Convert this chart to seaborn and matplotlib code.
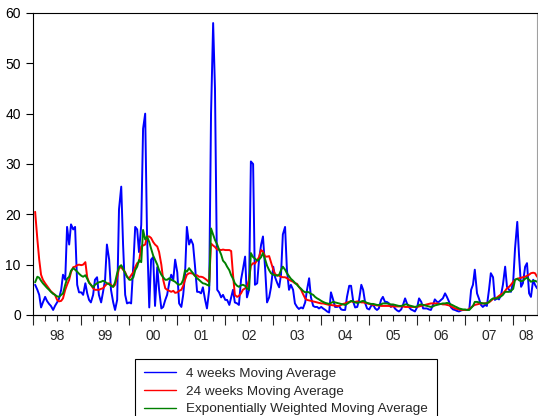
import numpy as np
import pandas as pd
import matplotlib.pyplot as plt
import seaborn as sns

# semi-monthly readings, one line per year (1998 .. mid 2008)
ma4 = [
    6, 5, 4, 1.5, 2.5, 3.6, 2.8, 2.2, 1.8, 1.0, 1.8, 2.5, 3.2, 5, 8, 7, 17.5, 14, 18, 17, 17.5, 6, 4.5, 4.5,
    4, 6.3, 4.3, 3, 2.5, 4, 7, 7.5, 4, 2.5, 4.5, 7, 14, 11, 5, 2.5, 1, 3, 21, 25.5, 14, 4, 2.3, 2.5,
    2.3, 10, 17.5, 17, 12.5, 17.9, 37, 40, 16, 1.5, 11, 11.5, 1.8, 9.5, 5, 1.3, 1.6, 3, 4, 6.5, 8, 7, 11, 8.5,
    2.3, 1.6, 4, 8, 17.5, 14, 15, 14, 10, 4.6, 4.6, 4.3, 5.5, 3, 1.3, 5, 40, 58, 45, 5, 4.5, 3.5, 4, 3,
    3, 2, 3.5, 5, 2.5, 2.3, 2, 7, 9, 11.6, 3.5, 5, 30.5, 30, 6, 6.3, 11, 14, 15.6, 9, 2.5, 3.5, 5.5, 9.6,
    7.5, 6.3, 5.5, 8, 16, 17.5, 9, 5, 6, 5, 2.3, 1.6, 1.2, 1.5, 1.3, 2.5, 5, 7.3, 3.5, 1.8, 1.6, 1.6, 1.3, 1.6,
    1.3, 1, 0.7, 0.5, 4.5, 3, 1.6, 1.6, 1.8, 1.1, 1, 1, 3.6, 5.8, 5.8, 2.6, 1.5, 1.6, 3, 6, 5, 2.3, 1.3, 1.1,
    1.8, 2, 1.3, 1, 1.3, 3, 3.6, 2.6, 2.6, 2.3, 1.6, 2, 1.3, 0.9, 0.7, 1.1, 2, 3.3, 2.3, 1.5, 1.1, 0.9, 0.7, 1.6,
    3.3, 2.6, 1.3, 1.3, 1.3, 1.1, 1, 2, 3.1, 2.6, 2.6, 3, 3.3, 4.3, 3.6, 2.6, 1.5, 1.1, 1, 0.8, 0.7, 0.9, 1, 1,
    1, 1.1, 5, 6, 9, 4.3, 3.3, 2, 1.6, 2, 1.8, 5, 8.3, 7.5, 3, 3.3, 3.1, 4, 6, 9.6, 5.6, 5, 4.6, 6.6,
    13.2, 18.5, 11.6, 5.6, 6.3, 9.6, 10.3, 4.3, 3.6, 7, 6, 5.3,
]
ma24 = [
    20.5, 15, 11, 8, 7, 6.3, 5.8, 5.2, 4.7, 4.3, 4, 3, 2.7, 2.8, 3.3, 5, 6, 7, 8.5, 9.5, 9.6, 9.9, 10, 9.9,
    10, 10.5, 7.5, 6.5, 6, 5.3, 5, 5, 5, 5.2, 5.3, 5.8, 6.2, 6.3, 6, 5.6, 6, 7.5, 9.3, 9.5, 9, 8.5, 7.6, 7.3,
    7.9, 8.5, 9.5, 10.3, 10.5, 13.6, 13.8, 14, 15.6, 15.6, 15.3, 14.5, 14, 13.6, 12.5, 10, 7, 5.3, 5, 4.8, 4.6, 4.8, 4.4, 4.5,
    4.8, 5, 5.8, 7, 8, 8.3, 8.3, 8.2, 7.8, 7.9, 7.6, 7.6, 7.5, 7.2, 6.9, 6.5, 14.2, 13.8, 13.5, 13, 13, 12.9, 13, 12.9,
    12.9, 12.9, 12.7, 8, 4, 3.6, 3.8, 4.3, 5, 5.3, 5.6, 7, 9.8, 10.3, 10.2, 10.9, 11.5, 12.9, 12.6, 11.6, 11.6, 11.7, 10.5, 9,
    8.1, 7.9, 7.8, 7.6, 7.5, 7.5, 7.3, 7, 6.8, 6.6, 6.3, 6.2, 5.6, 5, 4.2, 3.3, 3, 2.9, 2.8, 2.7, 2.6, 2.5, 2.4, 2.3,
    2.3, 2.2, 2.1, 2, 2, 1.9, 1.9, 1.8, 1.8, 2, 2.2, 2.3, 2.5, 2.6, 2.7, 2.6, 2.6, 2.7, 2.6, 2.5, 2.5, 2.4, 2.3, 2.2,
    2.1, 2, 2, 1.9, 1.9, 1.8, 1.8, 1.8, 1.8, 1.8, 1.7, 1.7, 1.7, 1.7, 1.7, 1.7, 1.7, 1.6, 1.6, 1.6, 1.6, 1.6, 1.6, 1.6,
    1.7, 1.8, 1.9, 2, 2.1, 2.2, 2.3, 2.3, 2.3, 2.3, 2.2, 2.2, 2.1, 2.1, 2, 1.9, 1.7, 1.5, 1.3, 1.2, 1.1, 1, 1, 1,
    1, 1.2, 1.5, 1.8, 2, 2.1, 2.2, 2.3, 2.3, 2.3, 2.4, 2.5, 2.8, 3.2, 3.3, 3.5, 3.8, 4.1, 4.3, 4.8, 5.3, 5.6, 6, 6.6,
    7, 7.2, 7.3, 7.4, 7.5, 7.6, 7.8, 8, 8.3, 8.4, 8.3, 7.6,
]
ewma = [
    6.5, 7.6, 7.4, 6.8, 6.3, 5.8, 5.4, 5, 4.6, 4.2, 4, 3.7, 3.6, 4, 4.3, 6, 7.2, 7.6, 8.8, 9.3, 9, 8.6, 8.2, 7.8,
    7.6, 7.9, 7.2, 6.4, 6, 5.5, 6, 6.3, 6.5, 6.6, 6.8, 6.6, 6.3, 6.1, 5.8, 5.6, 6.5, 8.3, 9.5, 9.9, 9.2, 8.3, 7.6, 7,
    7, 7.5, 8.9, 9.6, 10.9, 10.5, 16.9, 15, 15.6, 14.5, 13.2, 11.8, 11, 10, 8.9, 8, 7.5, 7, 7, 7.3, 7, 6.8, 6.6, 6.2,
    6, 6.2, 7, 8.9, 8.6, 9.3, 8.8, 8.3, 7.8, 7.3, 7, 6.6, 6.3, 6.2, 6, 5.8, 17.2, 16, 14.9, 14, 13, 12, 10.8, 10.3,
    9.6, 8.9, 7.9, 7.2, 6.3, 5.8, 5.6, 5.9, 6, 5.8, 5.3, 5, 12.3, 11.5, 11.2, 10.8, 11, 11.5, 12.3, 11, 9.8, 8.9, 8.3, 8,
    7.9, 7.8, 8, 8.9, 9.6, 9, 8.3, 7.7, 7.2, 6.8, 6.4, 6, 5.6, 5.2, 4.8, 4.5, 4.6, 4.5, 4.2, 4, 3.6, 3.3, 3.1, 2.8,
    2.6, 2.4, 2.3, 2.2, 2.4, 2.6, 2.5, 2.4, 2.3, 2.2, 2.1, 2, 2.2, 2.5, 2.8, 2.7, 2.5, 2.4, 2.5, 2.7, 2.8, 2.6, 2.4, 2.3,
    2.2, 2.2, 2.1, 2, 2, 2.1, 2.3, 2.3, 2.3, 2.2, 2.1, 2.1, 2, 1.9, 1.8, 1.8, 1.9, 2.1, 2.1, 1.9, 1.8, 1.7, 1.6, 1.7,
    2, 2.1, 2, 1.9, 1.8, 1.7, 1.6, 1.7, 1.9, 2, 2.1, 2.2, 2.3, 2.3, 2.4, 2.3, 2.1, 1.9, 1.7, 1.5, 1.3, 1.2, 1.1, 1.1,
    1, 1, 1.4, 1.8, 2.6, 2.6, 2.5, 2.4, 2.3, 2.3, 2.3, 2.6, 3, 3.3, 3.3, 3.3, 3.5, 3.7, 4, 4.6, 4.6, 4.6, 4.8, 5.2,
    7, 7.2, 6.9, 6.7, 6.8, 7.2, 7.4, 7, 6.6, 6.8, 6.8, 6.6,
]

series_names = ['4 weeks Moving Average', '24 weeks Moving Average',
                'Exponentially Weighted Moving Average']
colors = ['#0000ff', '#ff0000', '#008000']
year_labels = ['98', '99', '00', '01', '02', '03', '04', '05', '06', '07', '08']

dates = pd.date_range('1998-01-15', periods=len(ma4), freq='SMS')
t = dates.year + (dates.dayofyear - 1) / 365.25

df = pd.DataFrame({'t': t, series_names[0]: ma4,
                   series_names[1]: ma24, series_names[2]: ewma})
long = df.melt(id_vars='t', var_name='series', value_name='value')

sns.set_style('ticks')
plt.rcParams['font.family'] = ['Liberation Sans', 'DejaVu Sans']

fig = plt.figure(figsize=(5.38, 4.16), dpi=100)
ax = fig.add_axes([0.0619, 0.2428, 0.9357, 0.7260])

sns.lineplot(data=long, x='t', y='value', hue='series',
             palette=dict(zip(series_names, colors)), linewidth=1.4, ax=ax)

ax.set_xlim(1998, 2008.49)
ax.set_ylim(0, 60)
ax.set_xlabel('')
ax.set_ylabel('')

ax.set_yticks(range(0, 61, 10))
ax.tick_params(axis='y', direction='out', length=5, width=0.8,
               labelsize=10, pad=4, colors='black')

# year labels centred in each year, no tick marks of their own
label_pos = [y + 0.5 for y in range(1998, 2008)] + [2008.27]
ax.set_xticks(label_pos)
ax.set_xticklabels(year_labels)
ax.tick_params(axis='x', which='major', length=0, labelsize=10, pad=10)

# tick marks: long at year boundaries, short at quarters
sec = ax.secondary_xaxis('bottom')
sec.set_xticks(range(1998, 2009))
sec.set_xticks(np.arange(1998, 2008.5, 0.25), minor=True)
sec.set_xticklabels([])
sec.tick_params(which='major', length=7, width=0.8, direction='out')
sec.tick_params(which='minor', length=4, width=0.8, direction='out')

for s in ['left', 'bottom', 'top']:
    ax.spines[s].set_color('black')
    ax.spines[s].set_linewidth(0.8)
ax.spines['right'].set_color('#a0a0a0')
ax.spines['right'].set_linewidth(0.8)
sec.spines['bottom'].set_linewidth(0.8)

h, l = ax.get_legend_handles_labels()
ax.get_legend().remove()
leg = fig.legend(h, l, loc='upper left', bbox_to_anchor=(135 / 538, 1 - 359 / 416),
                 fontsize=9.7, frameon=True, fancybox=False, edgecolor='black',
                 framealpha=1, borderpad=0.65, handlelength=2.4, handletextpad=0.75,
                 labelspacing=0.38, borderaxespad=0)
leg.get_frame().set_linewidth(0.8)
for line in leg.get_lines():
    line.set_linewidth(1.0)

fig.savefig('out.png', dpi=100)
